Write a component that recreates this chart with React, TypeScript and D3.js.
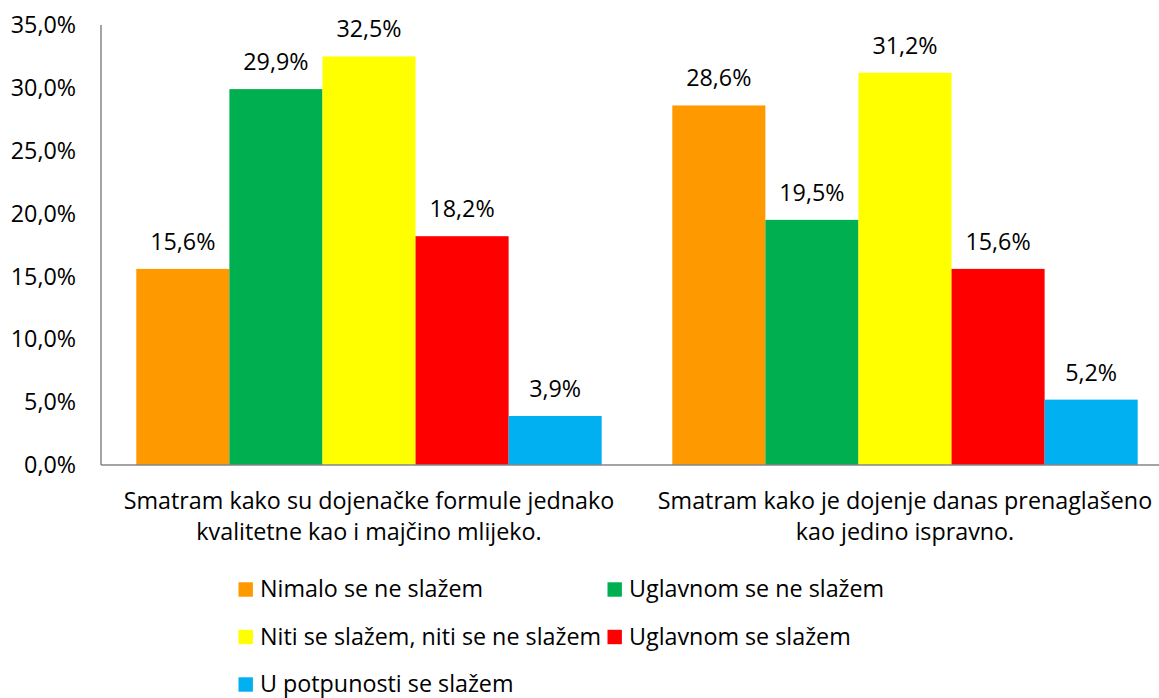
import React, { useEffect, useRef } from 'react';
import * as d3 from 'd3';

const categories = [
  ['Smatram kako su dojenačke formule jednako', 'kvalitetne kao i majčino mlijeko.'],
  ['Smatram kako je dojenje danas prenaglašeno', 'kao jedino ispravno.'],
];
const seriesNames = [
  'Nimalo se ne slažem',
  'Uglavnom se ne slažem',
  'Niti se slažem, niti se ne slažem',
  'Uglavnom se slažem',
  'U potpunosti se slažem',
];
const seriesColors = ['#FF9900', '#00B050', '#FFFF00', '#FF0000', '#00B0F0'];
// values per category, in series order
const values = [
  [15.6, 29.9, 32.5, 18.2, 3.9],
  [28.6, 19.5, 31.2, 15.6, 5.2],
];
const yTicks = [0, 5, 10, 15, 20, 25, 30, 35];

const fmt = (v: number) => v.toFixed(1).replace('.', ',') + '%';

const App = () => {
  const svgRef = useRef<SVGSVGElement>(null);
  const width = 1159;
  const height = 698;

  useEffect(() => {
    const svg = d3.select(svgRef.current);
    svg.selectAll('*').remove();

    const font = '"Open Sans", sans-serif';
    const fs = 23.3;
    const left = 101;
    const top = 25;
    const bottom = 465;

    const x0 = d3.scaleBand<number>().domain([0, 1]).range([left, left + 1072]);
    const x1 = d3.scaleBand<number>().domain(d3.range(5)).range([35.3, 536 - 35.3]);
    const y = d3.scaleLinear().domain([0, 35]).range([bottom, top]);

    // y tick labels
    svg.append('g')
      .selectAll('text')
      .data(yTicks)
      .enter().append('text')
      .attr('x', 76)
      .attr('y', d => y(d))
      .attr('dy', '0.35em')
      .attr('text-anchor', 'end')
      .attr('font-family', font)
      .attr('font-size', fs)
      .attr('fill', '#000')
      .text(d => d.toFixed(1).replace('.', ',') + '%');

    // bars
    const groups = svg.append('g')
      .selectAll('g')
      .data(values)
      .enter().append('g')
      .attr('transform', (d, i) => `translate(${x0(i)},0)`);

    groups.selectAll('rect')
      .data(d => d)
      .enter().append('rect')
      .attr('x', (d, i) => x1(i)!)
      .attr('y', d => y(d))
      .attr('width', x1.bandwidth())
      .attr('height', d => bottom - y(d))
      .attr('fill', (d, i) => seriesColors[i]);

    groups.selectAll('text.val')
      .data(d => d)
      .enter().append('text')
      .attr('class', 'val')
      .attr('x', (d, i) => x1(i)! + x1.bandwidth() / 2)
      .attr('y', d => y(d) - 19)
      .attr('text-anchor', 'middle')
      .attr('font-family', font)
      .attr('font-size', fs)
      .attr('fill', '#000')
      .text(d => fmt(d));

    // axes lines
    svg.append('line')
      .attr('x1', left).attr('x2', left)
      .attr('y1', top).attr('y2', bottom)
      .attr('stroke', '#868686').attr('stroke-width', 1.5);
    svg.append('line')
      .attr('x1', left).attr('x2', width)
      .attr('y1', bottom).attr('y2', bottom)
      .attr('stroke', '#868686').attr('stroke-width', 1.5);

    // category labels
    categories.forEach((lines, i) => {
      const cx = x0(i)! + x0.bandwidth() / 2;
      lines.forEach((ln, j) => {
        svg.append('text')
          .attr('x', cx)
          .attr('y', 509 + j * 31)
          .attr('text-anchor', 'middle')
          .attr('font-family', font)
          .attr('font-size', fs)
          .attr('fill', '#000')
          .text(ln);
      });
    });

    // legend
    const legend = svg.append('g');
    seriesNames.forEach((name, i) => {
      const col = i % 2;
      const row = Math.floor(i / 2);
      const lx = col === 0 ? 238.5 : 607.5;
      const ly = 589.5 + row * 47.5;
      legend.append('rect')
        .attr('x', lx).attr('y', ly - 7.2)
        .attr('width', 14.4).attr('height', 14.4)
        .attr('fill', seriesColors[i]);
      legend.append('text')
        .attr('x', lx + 21.5).attr('y', ly + 7.5)
        .attr('font-family', font)
        .attr('font-size', fs)
        .attr('fill', '#000')
        .text(name);
    });
  }, []);

  return (
    <svg ref={svgRef} width={width} height={height}
      style={{ position: 'absolute', left: 0, top: 0, background: '#fff' }} />
  );
};

export default App;
